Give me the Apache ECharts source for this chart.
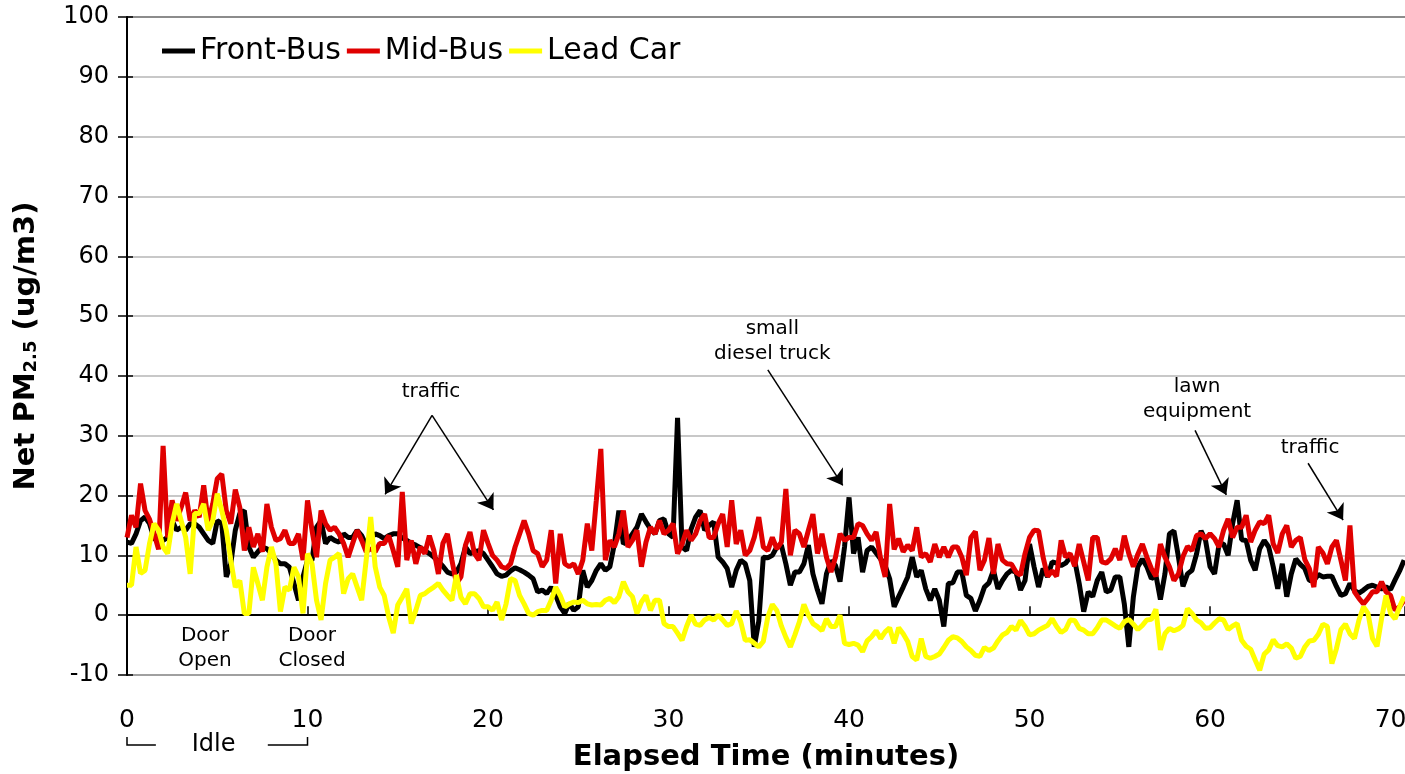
<!DOCTYPE html>
<html>
<head>
<meta charset="utf-8">
<title>Net PM2.5 vs elapsed time</title>
<script src="https://cdn.jsdelivr.net/npm/echarts@6/dist/echarts.min.js"></script>
<style>
  html, body { margin: 0; padding: 0; background: #fff; }
  #chart { width: 1405px; height: 774px; }
</style>
</head>
<body>
<div id="chart"></div>
<script>
// one reading every 15 s (0.25 min), starting at t = 0
const STEP_MIN = 0.25

const frontBus = [
  12.2, 12, 13.6, 15.8, 16.4, 15.3, 12.8, 12.5, 12.5, 13, 15.8, 14.2, 14.7, 14.2, 15.3, 15.3,
  14.7, 13.6, 12.5, 12, 15.8, 15.3, 6.4, 8.6, 14.2, 17, 17.5, 11.4, 9.7, 10.6, 11.4, 11.1,
  10.3, 9.2, 8.6, 8.6, 8, 5.3, 2.5, 6.4, 9.2, 9.2, 14.7, 15.8, 12, 13, 12.5, 12.2,
  13.6, 13, 13, 14.2, 13.3, 11.7, 12.8, 13.6, 13.3, 12.8, 13.3, 13.6, 13.6, 12.9, 12.5, 12,
  11.7, 11.3, 10.8, 10.3, 9.7, 9, 8.2, 7.2, 6.9, 7.2, 8.6, 11.4, 10.3, 10.6, 10.8, 10.3,
  9.2, 8.1, 6.9, 6.5, 6.7, 7.4, 7.9, 7.6, 7.2, 6.7, 6.1, 3.9, 4.2, 3.6,
  4.7, 3.3, 1.4, 0.3, 2, 0.8, 1.4, 7.5, 4.7, 5.8, 7.5, 8.6, 7.5, 8.1, 11.9, 17.5,
  11.9, 12.5, 13.6, 14.7, 16.9, 15.6, 14.4, 13.6, 15.8, 16.1, 13.6, 13, 33, 11.4, 10.8, 14.4,
  16.4, 17.5, 14.2, 15, 15.6, 9.7, 8.9, 7.8, 4.7, 7.5, 9.2, 8.6, 5.8, -5.3, -1,
  9.7, 9.6, 10, 11.4, 11.7, 8.6, 5, 7.2, 7.2, 8.6, 11.7, 6.9, 4.2, 1.9, 6.9, 9.1,
  8.3, 5.6, 11.4, 19.7, 10.3, 13, 7.2, 10.8, 11.4, 10.4, 9.4, 8.3, 6.1, 1.4, 3.1, 4.7,
  6.4, 9.7, 6.4, 7.5, 4.4, 2.5, 4.4, 2.5, -1.9, 5.3, 5.4, 7.2, 7.2, 3.3,
  2.8, 0.7, 2.5, 4.7, 5.4, 7.5, 4.4, 5.8, 6.9, 7.5, 7.2, 4.2, 5.8, 11.9, 8.1, 4.7,
  7.8, 6.4, 8.9, 8.7, 8.3, 8.7, 9.7, 9.2, 5.3, 0.6, 3.9, 3.1, 5.8, 7.2, 3.9, 4.2,
  6.4, 6.4, 1.9, -5.3, 3, 8.1, 9.4, 8.1, 6.1, 6.7, 2.6, 6.9, 13.6, 14.1, 9.7,
  4.8, 6.9, 7.5, 10.2, 14.1, 12.5, 8.1, 6.9, 11.9, 11.9, 10, 15.3, 19.2, 12.6, 12.5, 9.2,
  7.5, 11.1, 12.5, 11.4, 8.1, 4.4, 8.6, 3.1, 6.9, 9.4, 8.5, 7.8, 5.8, 5.8, 6.8, 6.4,
  6.5, 6.5, 4.8, 3.3, 3.6, 5.3, 4.1, 3.7, 4.2, 4.8, 5, 4.7, 4.4, 4.7, 4.3, 5.9,
  7.4, 9.2
]

const midBus = [
  13, 16.7, 14.7, 22, 17.5, 16, 13.6, 11, 28.3, 13, 19.2, 15.8, 18, 20.5, 15.8, 17.5,
  16.4, 21.7, 15.5, 18.6, 22.8, 23.6, 17.5, 15.3, 21, 18, 10.8, 14.7, 11.4, 13.6, 10.6, 18.6,
  14.7, 12.5, 12.8, 14.2, 12, 12, 13.6, 9.2, 19.2, 14.2, 9.7, 17.5, 15.3, 14.2, 14.7, 13.6,
  12, 9.7, 12, 14.2, 12.5, 10.6, 11.1, 10.6, 12, 12, 13.3, 10.8, 8.1, 20.6, 9.2, 12.5,
  8.6, 11.4, 10.3, 13.3, 10.8, 6.9, 12, 13.6, 9.2, 5.3, 6.4, 11.7, 13.9, 10.3, 9.2, 14.2,
  12, 10, 9.2, 8.1, 7.8, 8.6, 11.4, 13.6, 15.8, 13.6, 10.8, 10.3, 8.1, 9.2,
  14.2, 5.3, 13.6, 8.6, 8.1, 8.6, 6.9, 9.2, 15.3, 10.8, 19.2, 27.8, 9.2, 12.5, 11.4, 13.6,
  17.5, 11.4, 12.5, 14.2, 8.1, 12.2, 14.7, 13.6, 15.8, 13.6, 14.2, 15.3, 10.3, 11.9, 14.2, 12.5,
  13.6, 15.8, 16.9, 13, 13, 15.3, 16.9, 11.4, 19.2, 11.9, 14.2, 10, 10.8, 13, 16.4,
  11.4, 10.8, 13, 11.1, 12.2, 21.1, 10, 14.2, 13.6, 11.4, 14.2, 16.9, 10.3, 13.6, 9.7, 7.2,
  9.7, 13.6, 12.5, 13, 13, 15.3, 15, 13.6, 12.5, 13.9, 9.4, 6.4, 18.6, 11, 12.8, 10.6,
  11.7, 10.8, 14.7, 9.7, 10.3, 8.9, 11.9, 9.7, 11.4, 9.7, 11.4, 11.4, 9.7, 6.7,
  13, 14, 7.5, 9.2, 12.9, 6.9, 11.9, 9.2, 8.6, 8.5, 7.2, 6.7, 10.3, 13, 14.2, 14.1,
  9.7, 6.5, 7.4, 6.5, 12.5, 9.7, 10.3, 8.2, 11.9, 8.9, 5.8, 13, 13, 8.9, 8.7, 9.4,
  11.1, 9.2, 13.3, 10.3, 8.1, 10.2, 11.9, 9.7, 7.8, 6.5, 11.9, 9.7, 8.1, 5.8, 6.9,
  9.8, 11.5, 10.8, 13.3, 13.6, 12.8, 13.6, 12.8, 11.4, 14.2, 16.1, 13, 14.7, 14.7, 16.7, 12.2,
  14.2, 15.6, 15.3, 16.7, 11.9, 10.4, 13.6, 15, 11.4, 12.5, 13, 9.3, 7.8, 4.7, 11.4, 10.4,
  8.6, 11.4, 12.5, 9.2, 5.8, 15, 3.9, 2.8, 1.9, 2.8, 3.9, 3.9, 5.6, 3.9, 3.3, 0.8,
  1.4, 2.5
]

const leadCar = [
  5, 5, 11.4, 7, 7.5, 12, 15.3, 14.2, 11.4, 10.3, 15.3, 18.6, 15.8, 13, 6.9, 17,
  17, 18.6, 14.2, 15.8, 20.3, 17.5, 14.2, 9.2, 4.7, 5.8, 0.3, 0.3, 8, 5.3, 2.5, 8,
  11.4, 8.6, 0.6, 4.7, 4.2, 8, 6.4, 0.3, 10.3, 8.6, 2.5, -0.8, 5.3, 9.2, 9.7, 10.3,
  3.6, 6.1, 6.9, 4.7, 2.5, 9.2, 16.4, 8.1, 4.7, 3.3, -0.3, -3, 1.7, 3, 4.4, -1.4,
  0.8, 3.3, 3.6, 4.2, 4.7, 5.3, 4.2, 3.3, 2.5, 6.7, 3, 1.9, 3.6, 3.6, 2.8, 1.4,
  1.4, 0.8, 2.2, -0.8, 1.9, 6.1, 5.8, 3.3, 1.9, 0.3, 0, 0.6, 0.8, 0.8,
  2.5, 4.7, 3.3, 1.4, 1.9, 2.2, 2.1, 2.5, 1.9, 1.7, 1.8, 1.7, 2.5, 2.8, 2.1, 3.1,
  5.6, 3.9, 3.1, 0.3, 2.2, 3.3, 0.8, 2.5, 2.5, -1.4, -1.9, -1.9, -3, -4.2, -1.9, 0,
  -1.5, -1.7, -0.8, -0.4, -0.8, 0, -0.8, -1.7, -1.4, 0.7, -1.1, -4.2, -4.1, -4.7, -5.3,
  -4.4, -0.3, 1.8, 0.8, -1.8, -3.7, -5.3, -3.3, -1.1, 1.8, 0, -1.4, -1.9, -2.6, -0.6, -1.9,
  -1.9, 0, -4.7, -4.9, -4.7, -5, -6.1, -4.3, -3.6, -2.6, -3.9, -2.8, -2.1, -4.7, -2.1, -3.1,
  -4.4, -6.9, -7.5, -3.9, -6.9, -7.2, -6.9, -6.5, -5.4, -4.2, -3.6, -3.8, -4.4, -5.3,
  -5.9, -6.7, -6.9, -5.4, -5.9, -5.5, -4.3, -3.3, -2.9, -1.9, -2.5, -0.9, -1.9, -3.3, -3.1, -2.5,
  -2.1, -1.7, -0.6, -1.9, -2.9, -2.4, -0.8, -0.9, -2.2, -2.5, -3.1, -3.1, -2.1, -0.8, -0.8, -1.3,
  -1.8, -2.2, -1.1, -0.7, -1.5, -2.4, -1.7, -0.8, -0.7, 1, -5.8, -3.1, -2.2, -2.6, -2.3,
  -1.7, 1.1, 0.3, -0.8, -1.3, -2.2, -2.1, -1.3, -0.6, -0.8, -2.4, -1.8, -1.4, -4.2, -5.2, -5.7,
  -7.5, -9.2, -6.5, -5.8, -4.1, -5.1, -5.3, -4.8, -5.5, -7.2, -6.9, -5.3, -4.3, -4.2, -3.2, -1.5,
  -1.9, -8.1, -5.6, -2.4, -1.5, -3.1, -3.9, -0.8, 1.4, 0.3, -3.9, -5.2, -0.6, 3.3, 0.3, -0.6,
  1.4, 3.1
]

const yTicks = { min: -10, max: 100, step: 10 }
const xTicks = { min: 0, max: 70.8, step: 10 }

// annotation text: [label, minutes, value]
const notes = [
  ['traffic', 16.84, 37.3],
  ['small\ndiesel truck', 35.75, 45.8],
  ['lawn\nequipment', 59.28, 36.1],
  ['traffic', 65.54, 27.9],
  ['Door\nOpen', 4.32, -5.5],
  ['Door\nClosed', 10.25, -5.5]
]
// arrows: [fromMinutes, fromValue, toMinutes, toValue]
const arrows = [
  [16.9, 33.4, 14.3, 20.2],
  [16.9, 33.4, 20.3, 17.6],
  [35.5, 41.0, 39.65, 21.7],
  [59.17, 30.9, 60.9, 20.1],
  [65.43, 25.4, 67.37, 15.9]
]

const FONT = 'DejaVu Sans'

function toPairs(values) {
  return values.map((v, i) => [i * STEP_MIN, v])
}

const chart = echarts.init(document.getElementById('chart'))

function lineSeries(name, color, values) {
  return {
    name: name,
    type: 'line',
    data: toPairs(values),
    color: color,
    showSymbol: false,
    symbol: 'none',
    lineStyle: { color: color, width: 5 },
    itemStyle: { color: color },
    emphasis: { disabled: true },
    animation: false
  }
}

const series = [
  lineSeries('Front-Bus', '#000000', frontBus),
  lineSeries('Mid-Bus', '#e00000', midBus),
  lineSeries('Lead Car', '#ffff00', leadCar)
]

// annotations ride on the top series
series[2].markLine = {
  silent: true,
  animation: false,
  symbol: ['none', 'arrow'],
  symbolSize: 15,
  label: { show: false },
  lineStyle: { color: '#000', width: 1.5, type: 'solid' },
  data: arrows.map(a => [{ coord: [a[0], a[1]] }, { coord: [a[2], a[3]] }])
}
series[2].markPoint = {
  silent: true,
  animation: false,
  symbol: 'rect',
  symbolSize: 1,
  itemStyle: { color: 'rgba(0,0,0,0)' },
  label: {
    show: true,
    position: 'inside',
    color: '#000',
    fontFamily: FONT,
    fontSize: 20,
    lineHeight: 25,
    formatter: p => p.name
  },
  data: notes.map(n => ({ name: n[0], coord: [n[1], n[2]] }))
}

const gridColors = ['#a0a0a0', '#000000', '#c8c8c8', '#c8c8c8', '#c8c8c8', '#c8c8c8',
  '#c8c8c8', '#c8c8c8', '#c8c8c8', '#c8c8c8', '#c8c8c8', '#8c8c8c']

var option = {
  animation: false,
  textStyle: { fontFamily: FONT },
  grid: { left: 127, right: 0, top: 17, bottom: 99, containLabel: false, outerBoundsMode: 'none' },
  legend: {
    left: 157,
    top: 31,
    icon: 'rect',
    itemWidth: 33,
    itemHeight: 5,
    itemGap: 6,
    selectedMode: false,
    textStyle: { fontFamily: FONT, fontSize: 30, color: '#000', padding: [0, 0, 0, 0] },
    data: ['Front-Bus', 'Mid-Bus', 'Lead Car']
  },
  xAxis: [
    {
      type: 'value',
      min: xTicks.min,
      max: xTicks.max,
      interval: xTicks.step,
      axisLine: { show: false, onZero: false },
      axisTick: { show: false },
      splitLine: { show: false },
      axisLabel: { fontSize: 25, color: '#000', margin: 33, fontFamily: FONT },
      name: 'Elapsed Time (minutes)',
      nameLocation: 'middle',
      nameGap: 68,
      nameTextStyle: { fontSize: 29, fontWeight: 'bold', color: '#000', fontFamily: FONT }
    },
    {
      type: 'value',
      min: xTicks.min,
      max: xTicks.max,
      interval: xTicks.step,
      axisLine: { show: true, onZero: true, lineStyle: { color: '#000', width: 2 } },
      axisTick: { show: true, length: 9, lineStyle: { color: '#000', width: 1.5 } },
      axisLabel: { show: false },
      splitLine: { show: false }
    }
  ],
  yAxis: [
    {
      type: 'value',
      min: yTicks.min,
      max: yTicks.max,
      interval: yTicks.step,
      axisLine: { show: true, lineStyle: { color: '#000', width: 2 } },
      axisTick: { show: true, length: 9, lineStyle: { color: '#000', width: 1.5 } },
      axisLabel: { fontSize: 24, color: '#000', margin: 18, fontFamily: FONT },
      splitLine: { show: true, lineStyle: { color: gridColors, width: 2 } },
      name: '{b|Net PM}{s|2.5}{b| (ug/m3)}',
      nameLocation: 'middle',
      nameGap: 86,
      nameTextStyle: {
        rich: {
          b: { fontSize: 29, fontWeight: 'bold', color: '#000', fontFamily: FONT },
          s: { fontSize: 18, fontWeight: 'bold', color: '#000', fontFamily: FONT, padding: [10, 0, 0, 0] }
        }
      }
    },
    {
      type: 'value',
      position: 'left',
      min: yTicks.min,
      max: yTicks.max,
      interval: yTicks.step,
      axisLine: { show: false },
      axisTick: { show: true, inside: true, length: 6, lineStyle: { color: '#000', width: 1.5 } },
      axisLabel: { show: false },
      splitLine: { show: false }
    }
  ],
  series: series
}

chart.setOption(option)

// "Idle" bracket under the 0–10 minute labels
const x0 = chart.convertToPixel({ xAxisIndex: 0 }, 0)
const x10 = chart.convertToPixel({ xAxisIndex: 0 }, 10)
const yb = chart.convertToPixel({ yAxisIndex: 0 }, -10) + 70
const span = x10 - x0
chart.setOption({
  graphic: [
    {
      type: 'polyline',
      shape: { points: [[x0, yb - 8], [x0, yb], [x0 + span * 0.16, yb]] },
      style: { stroke: '#000', lineWidth: 1.5, fill: null }
    },
    {
      type: 'polyline',
      shape: { points: [[x0 + span * 0.78, yb], [x10, yb], [x10, yb - 8]] },
      style: { stroke: '#000', lineWidth: 1.5, fill: null }
    },
    {
      type: 'text',
      x: x0 + span * 0.48,
      y: yb,
      style: {
        text: 'Idle',
        font: '24px "DejaVu Sans"',
        fill: '#000',
        align: 'center',
        verticalAlign: 'middle'
      }
    }
  ]
})
</script>
</body>
</html>
